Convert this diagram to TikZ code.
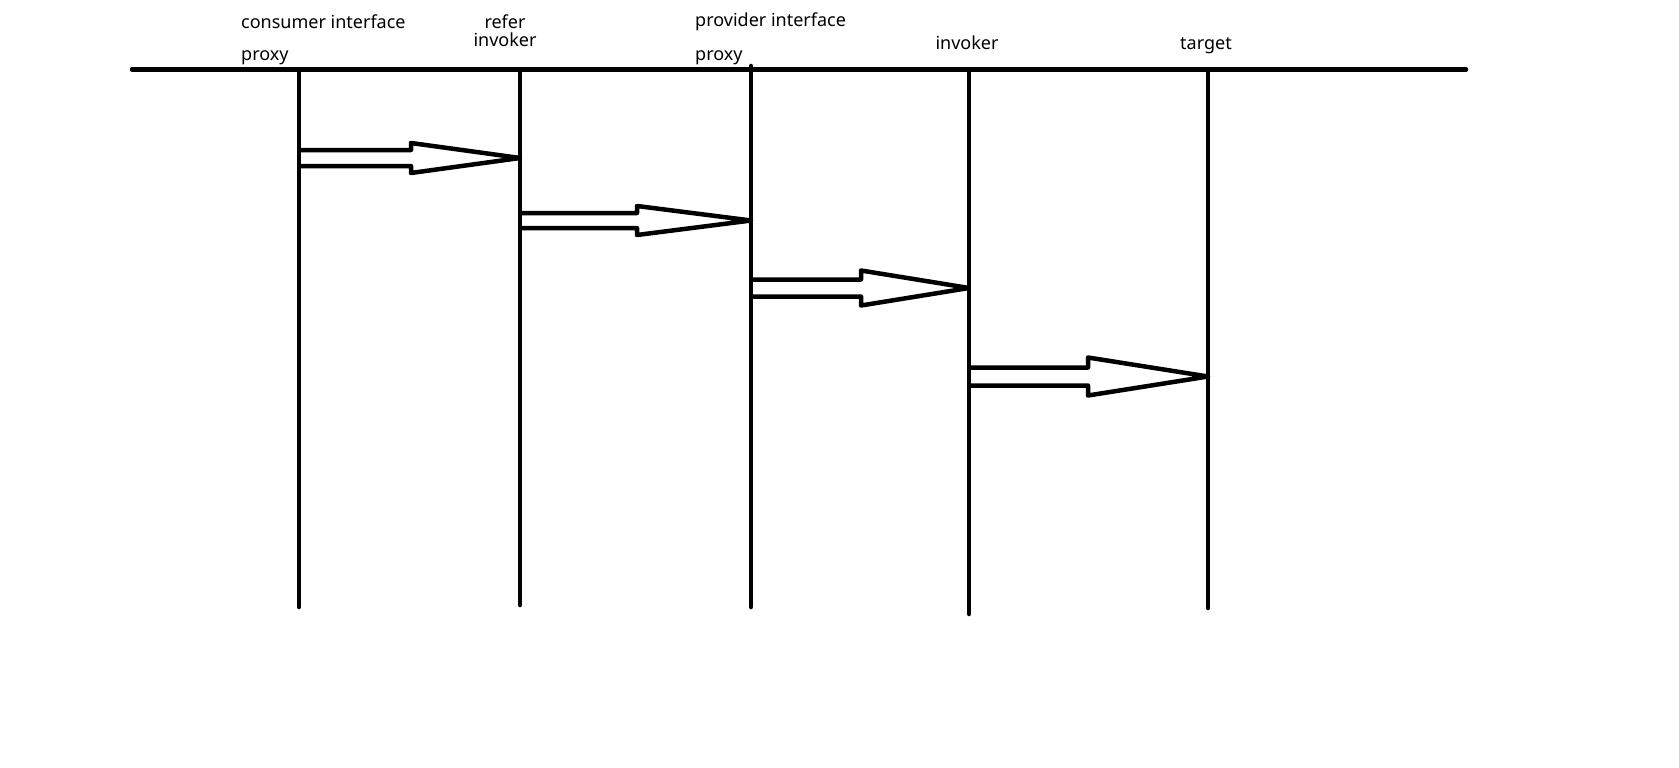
\documentclass[tikz,border=0pt]{standalone}
\usepackage{fontspec}
\setmainfont{Noto Sans}
\usetikzlibrary{calc}
\newcommand\hollowarrow[6]{% #1 from, #2 to, #3 head base x, #4 centre y, #5 shaft half, #6 head half
  \draw[hollow] ($(#1)+(0,#4-#5)$) -- (#3,#4-#5) -- (#3,#4-#6) -- ($(#2)+(0,#4)$)
     -- (#3,#4+#6) -- (#3,#4+#5) -- ($(#1)+(0,#4+#5)$);}
\begin{document}
\begin{tikzpicture}[x=1pt,y=-1pt,
  heavy/.style={line width=4.5pt,line cap=round},
  hollow/.style={line width=4.5pt,line join=round},
  lbl/.style={inner sep=0pt,font=\fontsize{18}{20}\selectfont}]
\useasboundingbox (0,0) rectangle (1679,768);
% top rule
\coordinate (rl) at (132,69.5);
\coordinate (rr) at (1466,69.5);
\draw[heavy] (rl) -- (rr);
% lifelines
\coordinate (t1) at (299,69.5); \coordinate (b1) at (299,607);
\coordinate (t2) at (520,69.5); \coordinate (b2) at (520,605);
\coordinate (t3) at (751,66);   \coordinate (b3) at (751,607);
\coordinate (t4) at (969,69.5); \coordinate (b4) at (969,614);
\coordinate (t5) at (1208,69.5);\coordinate (b5) at (1208,608);
\foreach \i in {1,...,5} \draw[heavy] (t\i) -- (b\i);
% labels
\node[lbl,anchor=base west] (l1a) at (241,29) {consumer interface};
\node[lbl,anchor=base west] (l1b) at (241,61) {proxy};
\node[lbl,anchor=base] (l2a) at (505,28.5) {refer};
\node[lbl,anchor=base] (l2b) at (505,47) {invoker};
\node[lbl,anchor=base west] (l3a) at (695,27) {provider interface};
\node[lbl,anchor=base west] (l3b) at (695,60) {proxy};
\node[lbl,anchor=base] (l4) at (967,50) {invoker};
\node[lbl,anchor=base] (l5) at (1206,50) {target};
% hollow arrows from lifeline to lifeline
\coordinate (o1) at (299,0); \coordinate (o2) at (520,0);
\coordinate (o3) at (751,0); \coordinate (o4) at (969,0);
\coordinate (o5) at (1208,0);
\hollowarrow{o1}{o2}{411}{158}{8}{15}
\hollowarrow{o2}{o3}{637}{220.5}{7.5}{14.5}
\hollowarrow{o3}{o4}{861}{288}{8.5}{17.5}
\hollowarrow{o4}{o5}{1088}{376.5}{9}{19}
\end{tikzpicture}
\end{document}
